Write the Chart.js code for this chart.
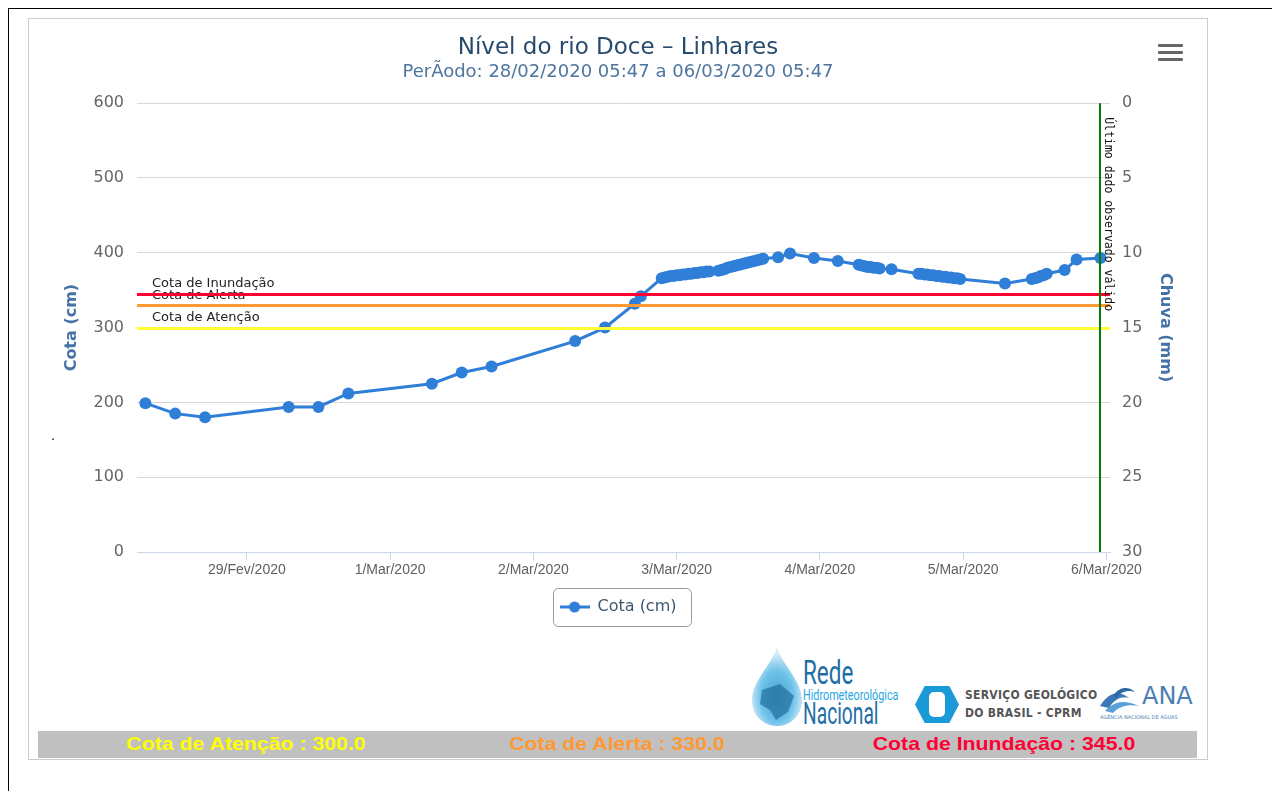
<!DOCTYPE html>
<html>
<head>
<meta charset="utf-8">
<title>Nível do rio Doce - Linhares</title>
<script src="https://cdn.jsdelivr.net/npm/chart.js@4.4.1/dist/chart.umd.min.js"></script>
<style>
  body { margin: 0; background: #fff; width: 1272px; height: 791px; position: relative; overflow: hidden; font-family: "DejaVu Sans", sans-serif; }
  .abs { position: absolute; }
  #frame { left: 8px; top: 8px; width: 1270px; height: 790px; border-left: 1px solid #000; border-top: 1px solid #000; }
  #box { left: 28px; top: 18px; width: 1178px; height: 740px; border: 1px solid #ccc; }
  #chart { left: 29px; top: 19px; }
  .bar { left: 1158px; width: 25px; height: 3px; background: #666; border-radius: 1px; }
  #limits { left: 38px; top: 731px; width: 1159px; height: 27px; background: #c0c0c0; }
  #limits span { position: absolute; top: 2px; font: bold 19px "Liberation Sans", Arial, sans-serif; white-space: nowrap; transform: translateX(-50%) scaleX(1.12); }
  .logo { white-space: nowrap; transform-origin: left top; }
</style>
</head>
<body>
<div id="frame" class="abs"></div>
<div id="box" class="abs"></div>
<canvas id="chart" class="abs" width="1178" height="620"></canvas>

<div class="abs bar" style="top:44px"></div>
<div class="abs bar" style="top:51px"></div>
<div class="abs bar" style="top:58px"></div>

<span class="abs" style="left:51px;top:428px;font-size:13px;color:#000">.</span>

<!-- logos -->
<svg class="abs" style="left:750px;top:646px" width="54" height="82" viewBox="0 0 54 82">
  <defs>
    <radialGradient id="dg" cx="50%" cy="62%" r="55%">
      <stop offset="0" stop-color="#2b8fc4"/>
      <stop offset="0.6" stop-color="#55b8e6"/>
      <stop offset="1" stop-color="#cfeaf8"/>
    </radialGradient>
  </defs>
  <path d="M27 2 C34 20 52 36 52 54 C52 70 40 80 27 80 C14 80 2 70 2 54 C2 36 20 20 27 2 Z" fill="url(#dg)" opacity="0.85"/>
  <path d="M12 44 L30 38 L44 50 L38 66 L26 74 L20 64 L10 58 Z" fill="#1f6f9c" opacity="0.7"/>
</svg>
<div class="abs logo" style="left:803px;top:652px;font:34px Roboto,sans-serif;color:#1f6ea6;transform:scaleX(0.66)">Rede</div>
<div class="abs logo" style="left:803px;top:686px;font:15px Roboto,sans-serif;color:#2aa6df;transform:scaleX(0.72)">Hidrometeorológica</div>
<div class="abs logo" style="left:803px;top:694px;font:32px Roboto,sans-serif;color:#1f6ea6;transform:scaleX(0.6)">Nacional</div>

<div class="abs" style="left:915px;top:686px;width:44px;height:37px;background:#1a9ad6;clip-path:polygon(22% 0,78% 0,100% 50%,78% 100%,22% 100%,0 50%)"></div>
<div class="abs" style="left:929px;top:692px;width:16px;height:25px;background:#fff;border-radius:5px"></div>
<div class="abs logo" style="left:965px;top:688px;font:bold 12px 'DejaVu Sans',sans-serif;color:#555;letter-spacing:0.3px;transform:scaleX(0.9)">SERVIÇO GEOLÓGICO</div>
<div class="abs logo" style="left:965px;top:706px;font:bold 12px 'DejaVu Sans',sans-serif;color:#555;letter-spacing:0.3px;transform:scaleX(0.9)">DO BRASIL - CPRM</div>

<svg class="abs" style="left:1099px;top:684px" width="44" height="30" viewBox="0 0 44 30">
  <path d="M1 22 C10 8 20 6 30 14 C24 12 16 14 10 24 Z" fill="#3b78b8"/>
  <path d="M6 27 C16 16 26 16 40 22 C30 20 20 22 14 29 Z" fill="#5aa0d8"/>
  <path d="M14 12 C20 2 30 2 36 8 C30 6 22 7 18 14 Z" fill="#2e6aa8"/>
</svg>
<div class="abs logo" style="left:1142px;top:682px;font:24px 'DejaVu Sans',sans-serif;color:#4a7fb5">ANA</div>
<div class="abs logo" style="left:1100px;top:714px;font:5px 'DejaVu Sans',sans-serif;color:#4a7fb5">AGÊNCIA NACIONAL DE ÁGUAS</div>

<div id="limits" class="abs">
  <span style="left:208px;color:#ffff00">Cota de Atenção : 300.0</span>
  <span style="left:579px;color:#ff9933">Cota de Alerta : 330.0</span>
  <span style="left:966px;color:#ff0033">Cota de Inundação : 345.0</span>
</div>

<script>
// hours counted from 29/Fev/2020 00:00
const tickHours = [0, 24, 48, 72, 96, 120, 144];
const tickLabels = ['29/Fev/2020', '1/Mar/2020', '2/Mar/2020', '3/Mar/2020', '4/Mar/2020', '5/Mar/2020', '6/Mar/2020'];

const hours = [
  -17, -12, -7, 7, 12, 17, 31, 36, 41, 55, 60, 65, 66,
  69.5, 70, 70.5, 71, 71.5, 72, 72.5, 73, 73.5, 74, 74.5, 75, 75.5, 76, 76.5, 77, 77.5,
  79, 79.5, 80, 80.5, 81, 81.5, 82, 82.5, 83, 83.5, 84, 84.5, 85, 85.5, 86, 86.5,
  89, 91, 95, 99,
  102.5, 103, 103.5, 104, 104.5, 105, 105.5, 106,
  108,
  112.5, 113, 113.5, 114, 114.5, 115, 115.5, 116, 116.5, 117, 117.5, 118, 118.5, 119, 119.5,
  127,
  131.5, 132, 132.5, 133, 133.5, 134,
  137, 139, 143
];
const cota = [
  199, 185, 180, 194, 194, 212, 225, 240, 248, 282, 300, 332, 342,
  366, 367, 368, 369, 369, 370, 370, 371, 371, 372, 372, 373, 373, 374, 374, 375, 375,
  376, 377, 378, 380, 381, 382, 383, 384, 385, 386, 387, 388, 389, 390, 391, 392,
  394, 399, 393, 389,
  384, 383, 382, 381, 381, 380, 380, 379,
  378,
  372, 372, 371, 371, 370, 370, 369, 369, 368, 368, 367, 367, 366, 366, 365,
  359,
  365, 366, 367, 369, 370, 372,
  377, 391, 393
];

const limitNames = ['Cota de Atenção', 'Cota de Alerta', 'Cota de Inundação'];
const limitValues = [300, 330, 345];
const limitColors = ['#ffff33', '#ff9933', '#ff0033'];
const lastValidHour = 143;

Chart.defaults.font.family = '"DejaVu Sans", sans-serif';

// legend symbol: line with a dot
const legendIcon = document.createElement('canvas');
legendIcon.width = 30;
legendIcon.height = 12;
(function () {
  const c = legendIcon.getContext('2d');
  c.strokeStyle = '#2f7ed8';
  c.lineWidth = 3;
  c.beginPath(); c.moveTo(0, 6); c.lineTo(30, 6); c.stroke();
  c.fillStyle = '#2f7ed8';
  c.beginPath(); c.arc(15, 6, 5.5, 0, Math.PI * 2); c.fill();
})();

const cotaLines = {
  id: 'cotaLines',
  afterDatasetsDraw(chart) {
    const { ctx, chartArea: a, scales: { x, y } } = chart;
    ctx.save();
    ctx.font = '13px "DejaVu Sans"';
    ctx.fillStyle = '#222';
    limitValues.forEach((v, i) => {
      ctx.fillText(limitNames[i], a.left + 15, y.getPixelForValue(v) - 10);
    });
    limitValues.forEach((v, i) => {
      const py = Math.round(y.getPixelForValue(v)) + 0.5;
      ctx.strokeStyle = limitColors[i];
      ctx.lineWidth = 3;
      ctx.beginPath(); ctx.moveTo(a.left, py); ctx.lineTo(a.right, py); ctx.stroke();
    });

    // last valid observation
    const gx = Math.round(x.getPixelForValue(lastValidHour));
    ctx.strokeStyle = '#008000';
    ctx.lineWidth = 2;
    ctx.beginPath(); ctx.moveTo(gx, a.top); ctx.lineTo(gx, a.bottom); ctx.stroke();
    ctx.translate(gx + 5, a.top + 14);
    ctx.rotate(Math.PI / 2);
    ctx.font = '11.5px "DejaVu Sans Mono"';
    ctx.fillStyle = '#111';
    ctx.textBaseline = 'alphabetic';
    ctx.fillText('Último dado observado válido', 0, 0);
    ctx.restore();
  }
};

const legendBox = {
  id: 'legendBox',
  afterDraw(chart) {
    const hb = chart.legend.legendHitBoxes[0];
    if (!hb) return;
    const ctx = chart.ctx;
    ctx.save();
    ctx.strokeStyle = '#999';
    ctx.lineWidth = 1;
    ctx.beginPath();
    ctx.roundRect(Math.round(hb.left - 7) + 0.5, Math.round(hb.top + hb.height / 2 - 19) + 0.5, Math.round(hb.width + 21), 38, 5);
    ctx.stroke();
    ctx.restore();
  }
};

new Chart(document.getElementById('chart'), {
  type: 'line',
  data: {
    datasets: [{
      label: 'Cota (cm)',
      data: hours.map((h, i) => ({ x: h, y: cota[i] })),
      borderColor: '#2f7ed8',
      backgroundColor: '#2f7ed8',
      borderWidth: 3,
      pointRadius: 6,
      pointHoverRadius: 6,
      pointBorderWidth: 0,
      tension: 0,
      yAxisID: 'y'
    }]
  },
  options: {
    responsive: false,
    animation: false,
    devicePixelRatio: 1,
    layout: { padding: { top: 0, left: 0, right: 0, bottom: 14 } },
    plugins: {
      title: {
        display: true,
        text: 'Nível do rio Doce – Linhares',
        color: '#274b6d',
        font: { size: 23, weight: 'normal' },
        padding: { top: 15, bottom: 0 }
      },
      subtitle: {
        display: true,
        text: 'PerÃodo: 28/02/2020 05:47 a 06/03/2020 05:47',
        color: '#4d759e',
        font: { size: 18 },
        padding: { top: 0, bottom: 20 }
      },
      legend: {
        position: 'bottom',
        labels: {
          usePointStyle: true,
          pointStyle: legendIcon,
          pointStyleWidth: 30,
          color: '#3e576f',
          font: { size: 16 },
          padding: 10
        }
      },
      tooltip: { enabled: false }
    },
    scales: {
      x: {
        type: 'linear',
        min: -18.4,
        max: 144.6,
        afterBuildTicks: s => { s.ticks = tickHours.map(v => ({ value: v })); },
        afterFit: s => { s.height = 37; },
        grid: { drawOnChartArea: false, drawTicks: true, tickLength: 8, tickColor: '#ccd6eb' },
        border: { color: '#ccd6eb' },
        ticks: {
          padding: 2,
          maxRotation: 0,
          autoSkip: false,
          color: '#606060',
          font: { family: '"Liberation Sans"', size: 14 },
          callback: v => tickLabels[tickHours.indexOf(v)]
        }
      },
      y: {
        position: 'left',
        min: 0,
        max: 600,
        afterFit: s => { s.width = 108; },
        ticks: { stepSize: 100, padding: 13, color: '#666', font: { size: 16 } },
        grid: { drawTicks: false, color: c => c.tick && c.tick.value === 0 ? 'rgba(0,0,0,0)' : '#d8d8d8' },
        border: { display: false },
        title: { display: true, text: 'Cota (cm)', color: '#4572a7', font: { size: 16, weight: 'bold' }, padding: { top: 33, bottom: 0 } }
      },
      y1: {
        position: 'right',
        min: 0,
        max: 30,
        reverse: true,
        afterFit: s => { s.width = 97; },
        ticks: { stepSize: 5, padding: 12, color: '#666', font: { size: 16 } },
        grid: { drawOnChartArea: false, drawTicks: false },
        border: { display: false },
        title: { display: true, text: 'Chuva (mm)', color: '#4572a7', font: { size: 16, weight: 'bold' }, padding: { top: 32, bottom: 0 } }
      }
    }
  },
  plugins: [cotaLines, legendBox]
});
</script>
</body>
</html>
